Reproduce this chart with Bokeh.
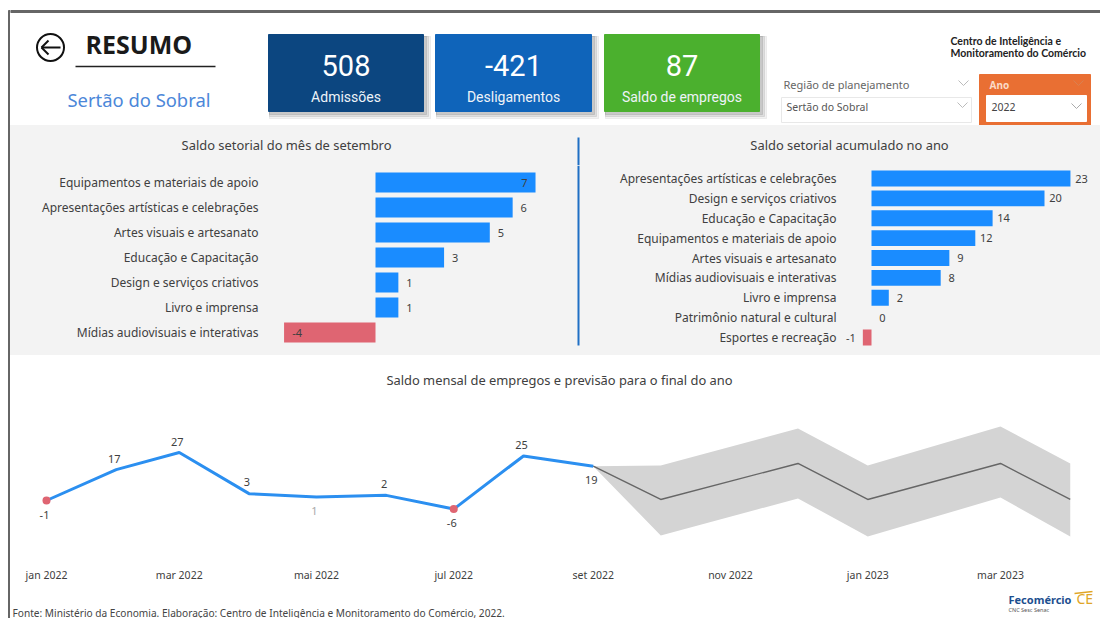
from datetime import datetime
from bokeh.plotting import figure
from bokeh.layouts import column, row
from bokeh.models import Range1d, Label, FixedTicker, ColumnDataSource
from bokeh.core.properties import value
from bokeh.embed import file_html
from bokeh.resources import INLINE

# ---------- data ----------
card_values = ["508", "-421", "87"]
card_labels = ["Admissões", "Desligamentos", "Saldo de empregos"]
card_colors = ["#0c4680", "#0f64ba", "#4bb02e"]

month_cats = ["Equipamentos e materiais de apoio", "Apresentações artísticas e celebrações",
              "Artes visuais e artesanato", "Educação e Capacitação", "Design e serviços criativos",
              "Livro e imprensa", "Mídias audiovisuais e interativas"]
month_vals = [7, 6, 5, 3, 1, 1, -4]

year_cats = ["Apresentações artísticas e celebrações", "Design e serviços criativos",
             "Educação e Capacitação", "Equipamentos e materiais de apoio", "Artes visuais e artesanato",
             "Mídias audiovisuais e interativas", "Livro e imprensa", "Patrimônio natural e cultural",
             "Esportes e recreação"]
year_vals = [23, 20, 14, 12, 9, 8, 2, 0, -1]

actual_dates = ["2022-01-01", "2022-02-01", "2022-03-01", "2022-04-01", "2022-05-01",
                "2022-06-01", "2022-07-01", "2022-08-01", "2022-09-01"]
actual_vals = [-1, 17, 27, 3, 1, 2, -6, 25, 19]

fc_dates = ["2022-09-01", "2022-10-01", "2022-12-01", "2023-01-01", "2023-03-01", "2023-04-01"]
fc_mid = [19, -0.4, 20.6, -0.4, 20.6, -0.4]
fc_low = [19, -21.4, 0.2, -22, 0.7, -22]
fc_high = [19, 19.4, 41, 19.4, 42.2, 20.6]

tick_dates = ["2022-01-01", "2022-03-01", "2022-05-01", "2022-07-01", "2022-09-01",
              "2022-11-01", "2023-01-01", "2023-03-01"]
tick_labels = ["jan 2022", "mar 2022", "mai 2022", "jul 2022", "set 2022",
               "nov 2022", "jan 2023", "mar 2023"]

# ---------- style ----------
FONT = "Noto Sans"
PANEL = "#f3f3f3"
TXT = "#404040"
BLUE = "#1a8cff"
RED = "#df6572"
BORDER = "#666666"


def ms(s):
    return datetime.fromisoformat(s).timestamp() * 1000


def lab(p, x, y, text, size=11, color=TXT, align="left", style="normal", font=FONT):
    p.add_layout(Label(x=x, y=y, text=text, text_font=font, text_font_size=f"{size}px",
                       text_color=color, text_align=align, text_baseline="middle",
                       text_font_style=style))


def pixel_fig(x0, x1, y0, y1, bg="white"):
    """A strip of the page whose data coordinates are the page's own pixels."""
    p = figure(width=x1 - x0, height=y1 - y0, x_range=Range1d(x0, x1), y_range=Range1d(y1, y0),
               output_backend="svg", toolbar_location=None, min_border=0,
               background_fill_color=None, border_fill_color=bg, outline_line_alpha=0,
               styles={"background-color": bg})
    p.axis.visible = False
    p.grid.visible = False
    return p


# ---------- left border ----------
strip = pixel_fig(0, 10, 0, 618)
strip.quad(left=[8], right=[10], top=[10], bottom=[618], color=BORDER)

# ---------- header ----------
hd = pixel_fig(10, 1100, 0, 125)
hd.quad(left=[10], right=[1100], top=[10], bottom=[12], color=BORDER)

hd.scatter([50], [47], size=27, marker="circle", fill_alpha=0, line_color="#111111", line_width=2)
hd.segment([41, 41, 41], [47, 47, 47], [60, 48, 48], [47, 40, 54], line_color="#111111", line_width=2)
lab(hd, 85, 43, "RESUMO", size=25, color="#1a1a1a", style="bold", font="Open Sans")
hd.segment([75], [66], [215], [66], line_color="#222222", line_width=1.5)
lab(hd, 67, 99, "Sertão do Sobral", size=18.4, color="#4c87d9")

card_x = [(268, 423), (435, 591), (604, 759)]
for (x0, x1), v, l, c in zip(card_x, card_values, card_labels, card_colors):
    for d, a in zip([7, 5, 3], [0.08, 0.12, 0.16]):
        hd.quad(left=[x0 + 1], right=[x1 + d], top=[36], bottom=[111 + d], color="#555555", alpha=a)
    hd.quad(left=[x0], right=[x1], top=[34], bottom=[111], color=c)
    lab(hd, (x0 + x1) / 2, 65, v, size=29, color="white", align="center", font="Roboto")
    lab(hd, (x0 + x1) / 2, 96, l, size=14, color="#eef3f8", align="center", font="Roboto")

lab(hd, 783, 84, "Região de planejamento", size=11, color="#666666")
lab(hd, 786, 106, "Sertão do Sobral", size=10.5, color="#555555")
hd.quad(left=[781], right=[971], top=[97], bottom=[122], fill_alpha=0, line_color="#e8e8e8")
hd.quad(left=[979], right=[1090], top=[74], bottom=[125], color="#e96f33")
hd.quad(left=[986], right=[1086], top=[95], bottom=[121], color="white")
lab(hd, 989, 84, "Ano", size=10, color="#fbd9c6", style="bold")
lab(hd, 991, 106, "2022", size=10.5, color="#444444")
for cx, cy, col in [(963, 83, "#bbbbbb"), (962, 105, "#bbbbbb"), (1078, 83, "#d98050"), (1076, 106, "#aaaaaa")]:
    hd.line([cx - 5, cx, cx + 5], [cy - 3, cy + 2, cy - 3], line_color=col, line_width=1)

lab(hd, 950, 40, "Centro de Inteligência e", size=10.5, color="#222222", style="bold", font="Lato")
lab(hd, 950, 52, "Monitoramento do Comércio", size=10.5, color="#222222", style="bold", font="Lato")

# ---------- panel titles ----------
tt = pixel_fig(10, 1100, 125, 165, bg=PANEL)
lab(tt, 286, 144, "Saldo setorial do mês de setembro", size=12.9, align="center")
lab(tt, 849, 144, "Saldo setorial acumulado no ano", size=12.9, align="center")
tt.segment([578], [137], [578], [165], line_color="#1f6fc4", line_width=2)


# ---------- bar panels ----------
def bar_panel(fig_left, frame_left, fig_right, zero_page, ppu, first_row, step, cats, vals):
    x_range = Range1d((frame_left - zero_page) / ppu, (fig_right - zero_page) / ppu)
    y_range = Range1d((355 - first_row) / step, (165 - first_row) / step)
    p = figure(width=fig_right - fig_left, height=190, x_range=x_range, y_range=y_range,
               output_backend="svg", toolbar_location=None, min_border=0,
               min_border_left=frame_left - fig_left,
               background_fill_color=None, border_fill_color=PANEL, outline_line_alpha=0,
               styles={"background-color": PANEL})
    p.xaxis.visible = False
    p.grid.visible = False
    ax = p.yaxis[0]
    ax.ticker = FixedTicker(ticks=list(range(len(cats))))
    ax.major_label_overrides = {i: c for i, c in enumerate(cats)}
    ax.axis_line_alpha = 0
    ax.major_tick_line_alpha = 0
    ax.minor_tick_line_alpha = 0
    ax.major_tick_in = 0
    ax.major_tick_out = 0
    ax.major_label_standoff = 7
    ax.major_label_text_font = FONT
    ax.major_label_text_font_size = "12px"
    ax.major_label_text_color = TXT
    src = ColumnDataSource(dict(y=list(range(len(cats))), v=vals,
                               c=[RED if v < 0 else BLUE for v in vals],
                               t=[str(v) for v in vals]))
    p.hbar(y="y", left=0, right="v", height=0.8, fill_color="c", line_alpha=0, source=src)
    return p, src


bl, sl = bar_panel(10, 265, 580, 375, 22.86, 182, 25, month_cats, month_vals)
sl.data["off"] = [-11 if v >= 7 else (13 if v < 0 else 11) for v in month_vals]
bl.text(x="v", y="y", text="t", x_offset="off", source=sl, text_align="center", text_baseline="middle",
        text_font=value(FONT), text_font_size="11px", text_color=TXT)
bl.segment([(578 - 375) / 22.86], [(165 - 182) / 25], [(578 - 375) / 22.86], [(345 - 182) / 25],
           line_color="#1f6fc4", line_width=2)

br, sr = bar_panel(580, 843, 1100, 871, 8.65, 178, 19.875, year_cats, year_vals)
sr.data["off"] = [-12 if v < 0 else 11 for v in year_vals]
br.text(x="v", y="y", text="t", x_offset="off", source=sr, text_align="center", text_baseline="middle",
        text_font=value(FONT), text_font_size="11px", text_color=TXT)

# ---------- line chart ----------
PX_DAY = 2.25
t0 = ms("2022-01-01")
x_start = t0 + (10 - 46) / PX_DAY * 86400000
x_end = t0 + (1100 - 46) / PX_DAY * 86400000
PX_UNIT = 1.714
y_low = -1 + (500 - 560) / PX_UNIT
y_high = -1 + (500 - 355) / PX_UNIT
ln = figure(width=1090, height=235, x_range=Range1d(x_start, x_end), y_range=Range1d(y_low, y_high),
            output_backend="svg", toolbar_location=None, min_border=0, min_border_bottom=30,
            background_fill_color=None, border_fill_color="white", outline_line_alpha=0)
ln.yaxis.visible = False
ln.grid.visible = False
xa = ln.xaxis[0]
xa.ticker = FixedTicker(ticks=[ms(d) for d in tick_dates])
xa.major_label_overrides = {ms(d): l for d, l in zip(tick_dates, tick_labels)}
xa.axis_line_alpha = 0
xa.major_tick_line_alpha = 0
xa.minor_tick_line_alpha = 0
xa.major_tick_in = 0
xa.major_tick_out = 0
xa.major_label_standoff = 7
xa.major_label_text_font = FONT
xa.major_label_text_font_size = "10.5px"
xa.major_label_text_color = TXT

fx = [ms(d) for d in fc_dates]
ax_x = [ms(d) for d in actual_dates]
ln.varea(x=fx, y1=fc_low, y2=fc_high, color="#d4d4d4")
ln.line(fx, fc_mid, line_color="#666666", line_width=1.4)
ln.line(ax_x, actual_vals, line_color="#2b8ff0", line_width=3)
mins = [i for i, v in enumerate(actual_vals) if v < 0]
ln.scatter([ax_x[i] for i in mins], [actual_vals[i] for i in mins], size=8, marker="circle",
           color=RED, line_alpha=0)
offs = [14, -11, -11, -12, 14, -11, 14, -11, 14]
ln_src = ColumnDataSource(dict(x=ax_x, y=actual_vals, t=[str(v) for v in actual_vals], o=offs,
                               c=["#aaaaaa" if v == 1 else TXT for v in actual_vals]))
ln.text(x="x", y="y", text="t", y_offset="o", x_offset=-2, source=ln_src, text_align="center",
        text_baseline="middle", text_font=value(FONT), text_font_size="11px", text_color="c")
ln.add_layout(Label(x=ms("2022-01-01") + (559 - 46) / PX_DAY * 86400000, y=-1 + (500 - 379) / PX_UNIT,
                    text="Saldo mensal de empregos e previsão para o final do ano",
                    text_font=FONT, text_font_size="12.9px", text_color=TXT,
                    text_align="center", text_baseline="middle"))

# ---------- footer ----------
ft = pixel_fig(10, 1100, 590, 618)
lab(ft, 12, 612, "Fonte: Ministério da Economia. Elaboração: Centro de Inteligência e Monitoramento do Comércio, 2022.",
    size=10.15, color="#444444")
lab(ft, 1008, 599, "Fecomércio", size=11, color="#1d4f8f", style="bold")
lab(ft, 1076, 598, "CE", size=14, color="#e0a526")
ft.segment([1074], [593], [1092], [591], line_color="#e0a526", line_width=1.5)
lab(ft, 1008, 609, "CNC Sesc Senac", size=5.5, color="#555555")

page = row(strip, column(hd, tt, row(bl, br, spacing=0), ln, ft, spacing=0), spacing=0)
open("out.html", "w").write(file_html(page, INLINE))
